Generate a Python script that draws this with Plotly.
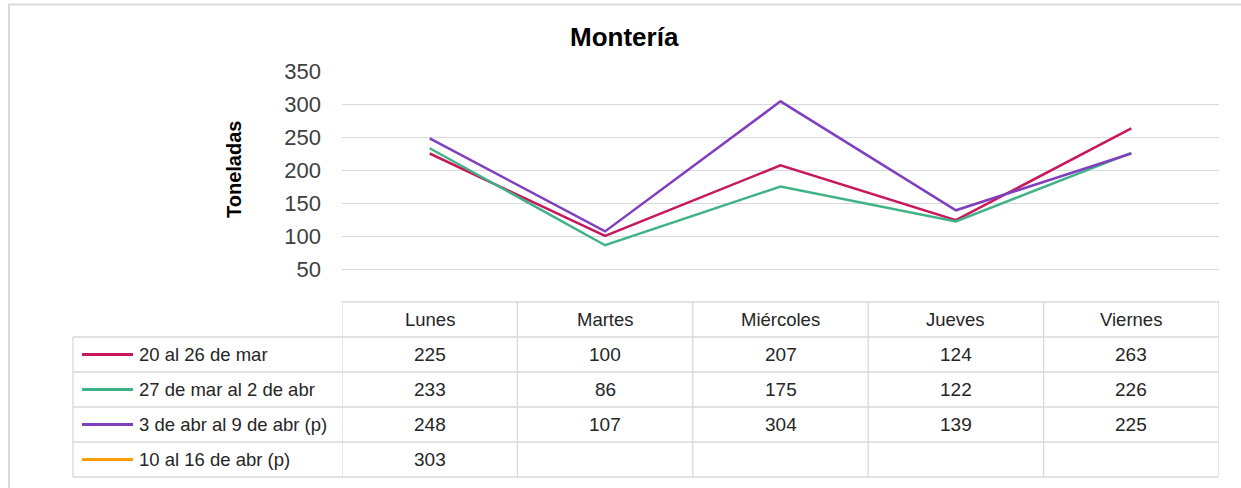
import plotly.graph_objects as go

categories = ["Lunes", "Martes", "Miércoles", "Jueves", "Viernes"]
series_names = ["20 al 26 de mar", "27 de mar al 2 de abr", "3 de abr al 9 de abr (p)", "10 al 16 de abr (p)"]
s1 = [225, 100, 207, 124, 263]
s2 = [233, 86, 175, 122, 226]
s3 = [248, 107, 304, 139, 225]
s4 = [303, None, None, None, None]
series_values = [s1, s2, s3, s4]
colors = ["#C8175D", "#40B386", "#7F3FBF", "#F5A000"]
y_ticks = [50, 100, 150, 200, 250, 300, 350]

W, H = 1241, 488
def px(x): return x / W
def py(y): return (H - y) / H

fig = go.Figure()
for name, vals, col in zip(series_names, series_values, colors):
    fig.add_trace(go.Scatter(x=list(range(len(categories))), y=vals, mode="lines", name=name,
                             line=dict(color=col, width=2.5), showlegend=False))

font = "Liberation Sans, Arial, sans-serif"
shapes = []
ann = []
grid = "#d9d9d9"
shapes.append(dict(type="line", xref="paper", yref="paper", x0=px(8), x1=1, y0=py(4.5), y1=py(4.5), line=dict(color=grid, width=2)))
shapes.append(dict(type="line", xref="paper", yref="paper", x0=px(9), x1=px(9), y0=0, y1=py(4), line=dict(color=grid, width=2)))

row_tops = [302, 337, 372, 407, 442, 477]
tab_left_px = 73
for i, yt in enumerate(row_tops):
    shapes.append(dict(type="line", xref="x", yref="paper", x0=-0.5, x1=len(categories) - 0.5, y0=py(yt), y1=py(yt), line=dict(color=grid, width=1.3)))
    if i >= 1:
        shapes.append(dict(type="line", xref="paper", yref="paper", x0=px(tab_left_px), x1=px(342), y0=py(yt), y1=py(yt), line=dict(color=grid, width=1.3)))
for k in range(len(categories) + 1):
    shapes.append(dict(type="line", xref="x", yref="paper", x0=k - 0.5, x1=k - 0.5, y0=py(row_tops[-1]), y1=py(row_tops[0]), line=dict(color=grid, width=1.3)))
shapes.append(dict(type="line", xref="paper", yref="paper", x0=px(tab_left_px), x1=px(tab_left_px), y0=py(row_tops[-1]), y1=py(row_tops[1]), line=dict(color=grid, width=1.3)))

tfont = dict(family=font, size=18.5, color="#262626")
for k, c in enumerate(categories):
    ann.append(dict(x=k, xref="x", y=py((row_tops[0] + row_tops[1]) / 2), yref="paper", text=c, showarrow=False,
                    font=tfont, xanchor="center", yanchor="middle"))
for i, (name, vals, col) in enumerate(zip(series_names, series_values, colors)):
    yc = py((row_tops[i + 1] + row_tops[i + 2]) / 2)
    shapes.append(dict(type="line", xref="paper", yref="paper", x0=px(82), x1=px(133), y0=yc, y1=yc,
                       line=dict(color=col, width=3)))
    ann.append(dict(x=px(137), xref="paper", y=yc, yref="paper", text=name, showarrow=False,
                    font=tfont, xanchor="left", yanchor="middle"))
    for k, v in enumerate(vals):
        if v is not None:
            ann.append(dict(x=k, xref="x", y=yc, yref="paper", text=str(v), showarrow=False,
                            font=dict(family=font, size=19, color="#262626"), xanchor="center", yanchor="middle"))

ann.append(dict(x=px(234), xref="paper", y=py(170), yref="paper", text="<b>Toneladas</b>", showarrow=False, textangle=-90,
                font=dict(family=font, size=20, color="#000000"), xanchor="center", yanchor="middle"))
ann.append(dict(x=px(624), xref="paper", y=py(37), yref="paper", text="<b>Montería</b>", showarrow=False,
                font=dict(family=font, size=26, color="#000000"), xanchor="center", yanchor="middle"))

fig.update_layout(
    width=W, height=H, margin=dict(l=0, r=0, t=0, b=0, pad=0, autoexpand=False),
    paper_bgcolor="white", plot_bgcolor="white",
    xaxis=dict(domain=[px(342), px(1219)], range=[-0.5, len(categories) - 0.5], showticklabels=False,
               showgrid=False, zeroline=False, showline=False, fixedrange=True, automargin=False),
    yaxis=dict(domain=[py(302), py(71)], range=[0, 350], tickvals=y_ticks, showgrid=True, gridcolor=grid, gridwidth=1.3,
               zeroline=False, showline=False, ticks="", ticklabelstandoff=20, automargin=False,
               tickfont=dict(family=font, size=22, color="#404040")),
    shapes=shapes, annotations=ann,
)
fig.write_html("out.html", config={"displayModeBar": False}, post_script="document.body.style.margin='0';")
